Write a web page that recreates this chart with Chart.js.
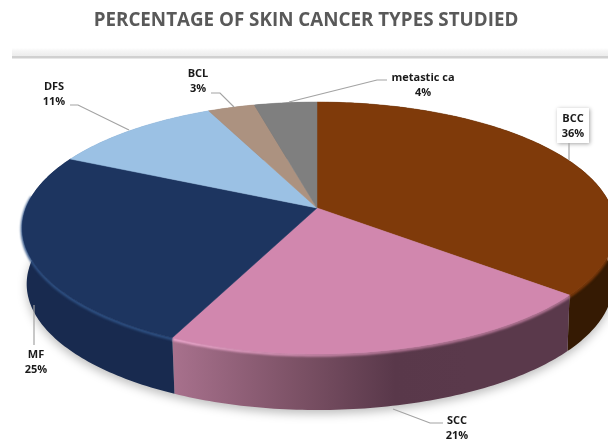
<!DOCTYPE html>
<html>
<head>
<meta charset="utf-8">
<style>
html,body{margin:0;padding:0;background:#fff;overflow:hidden}
canvas{display:block;filter:blur(0.35px)}
</style>
<script src="https://cdn.jsdelivr.net/npm/chart.js@4"></script>
</head>
<body>
<canvas id="c" width="608" height="439"></canvas>
<script>
const chartTitle = 'PERCENTAGE OF SKIN CANCER TYPES STUDIED';
const categories = ['BCC', 'SCC', 'MF', 'DFS', 'BCL', 'metastic ca'];
const percentages = [36, 21, 25, 11, 3, 4];
const topColors = ['#7F3A0A', '#D187AE', '#1D3560', '#9BC1E4', '#AC9280', '#7F7F7F'];
const wallColors = ['#351A03', '#5A394B', '#182A4F', '#7C9AB6', '#8A7566', '#666666'];

// Drawing layout (not data)
const geo = {cx: 317, cy: 208, a: 291, b: 122.8, p: -0.159, depth: 56, rightScale: 1.012, shrinkL: 0.985, shrinkR: 0.992};
const labelPos = [[573,118.5],[457,420.5],[36,355],[54,87],[198,73.5],[423,77.5]];
const leaders = [
  [[569,143],[569,160]],
  [[443,423],[430,423],[393,409]],
  [[34,345],[34,305]],
  [[70,105],[78,105],[129,130]],
  [[211,93],[220,93],[234,107]],
  [[387,80],[377,80],[289,102]]
];

function pt(theta, dy, bottom) {
  const u = Math.cos(theta), v = Math.sin(theta), w = 1 + geo.p * v;
  let k = u > 0 ? geo.rightScale : 1;
  if (bottom) k *= u > 0 ? geo.shrinkR : geo.shrinkL;
  return [geo.cx + k * geo.a * u / w, geo.cy + geo.b * v / w + (dy || 0)];
}
function edge(ctx, t0, t1, dy, first, bottom) {
  const n = Math.max(8, Math.ceil(Math.abs(t1 - t0) * 60));
  for (let i = 0; i <= n; i++) {
    const p = pt(t0 + (t1 - t0) * i / n, dy, bottom);
    if (i === 0 && first) ctx.moveTo(p[0], p[1]); else ctx.lineTo(p[0], p[1]);
  }
}

const pie3d = {
  id: 'pie3d',
  beforeDraw(chart) {
    const ctx = chart.ctx;
    ctx.save();
    const g = ctx.createLinearGradient(0, 48, 0, 56);
    g.addColorStop(0, 'rgba(225,225,225,0)');
    g.addColorStop(1, '#EDEDED');
    ctx.fillStyle = g;
    ctx.fillRect(12, 48, 596, 8);
    ctx.fillStyle = '#D0D0D0';
    ctx.fillRect(12, 56, 596, 2.5);
    ctx.restore();
  },
  beforeDatasetsDraw(chart) {
    const ctx = chart.ctx;
    const arcs = chart.getDatasetMeta(0).data;
    ctx.save();
    // soft shadow below the pie
    ctx.save();
    ctx.filter = 'blur(5px)';
    ctx.fillStyle = 'rgba(0,0,0,0.25)';
    ctx.beginPath();
    edge(ctx, 0, Math.PI * 2, geo.depth + 4, true, true);
    ctx.closePath();
    ctx.fill();
    ctx.restore();
    // side walls
    arcs.forEach((el, i) => {
      ctx.beginPath();
      edge(ctx, el.startAngle, el.endAngle, 0, true, false);
      edge(ctx, el.endAngle, el.startAngle, geo.depth, false, true);
      ctx.closePath();
      if (categories[i] === 'SCC') {
        const g = ctx.createLinearGradient(172, 0, 470, 0);
        g.addColorStop(0, '#A8718D');
        g.addColorStop(0.44, '#7A5064');
        g.addColorStop(0.75, '#59384A');
        g.addColorStop(1, '#5A394B');
        ctx.fillStyle = g;
      } else {
        ctx.fillStyle = wallColors[i];
      }
      ctx.fill();
    });
    // rim highlight on the front edge only
    arcs.forEach((el, i) => {
      const t0 = Math.max(el.startAngle, 0.3);
      const t1 = Math.min(el.endAngle, Math.PI + 0.1);
      if (t1 <= t0) return;
      ctx.save();
      ctx.filter = 'blur(1px)';
      ctx.lineWidth = 3;
      if (categories[i] === 'SCC') {
        const g = ctx.createLinearGradient(172, 0, 400, 0);
        g.addColorStop(0, '#F2ACD2');
        g.addColorStop(1, '#B87899');
        ctx.strokeStyle = g;
      } else if (categories[i] === 'MF') {
        ctx.strokeStyle = '#2F5285';
      } else {
        ctx.strokeStyle = topColors[i];
      }
      ctx.beginPath();
      edge(ctx, t0, t1, 1, true, false);
      ctx.stroke();
      ctx.restore();
    });
    // top faces
    arcs.forEach((el) => {
      ctx.beginPath();
      ctx.moveTo(geo.cx, geo.cy);
      edge(ctx, el.startAngle, el.endAngle, 0, false, false);
      ctx.closePath();
      ctx.fillStyle = el.options.backgroundColor;
      ctx.fill();
      ctx.strokeStyle = el.options.backgroundColor;
      ctx.lineWidth = 0.5;
      ctx.stroke();
    });
    ctx.restore();
    return false;
  },
  afterDraw(chart) {
    const ctx = chart.ctx;
    ctx.save();
    // BCC label box
    ctx.save();
    ctx.shadowColor = 'rgba(0,0,0,0.35)';
    ctx.shadowBlur = 4;
    ctx.shadowOffsetX = 1;
    ctx.shadowOffsetY = 1;
    ctx.fillStyle = '#fff';
    ctx.fillRect(557, 108, 32, 35);
    ctx.restore();
    // leader lines
    ctx.strokeStyle = '#A3A3A3';
    ctx.lineWidth = 1.2;
    leaders.forEach(line => {
      ctx.beginPath();
      line.forEach((p, k) => k ? ctx.lineTo(p[0], p[1]) : ctx.moveTo(p[0], p[1]));
      ctx.stroke();
    });
    // labels
    ctx.fillStyle = '#1A1A1A';
    ctx.font = 'bold 11px "Open Sans", sans-serif';
    ctx.textAlign = 'center';
    ctx.textBaseline = 'middle';
    categories.forEach((name, i) => {
      const [x, y] = labelPos[i];
      ctx.fillText(name, x, y);
      ctx.fillText(percentages[i] + '%', x, y + 15);
    });
    ctx.restore();
  }
};

new Chart(document.getElementById('c'), {
  type: 'pie',
  data: {
    labels: categories,
    datasets: [{data: percentages, backgroundColor: topColors, borderWidth: 0}]
  },
  options: {
    responsive: false,
    animation: false,
    events: [],
    layout: {padding: {left: 4}},
    plugins: {
      legend: {display: false},
      tooltip: {enabled: false},
      title: {
        display: true,
        text: chartTitle,
        color: '#595959',
        font: {family: '"Open Sans", sans-serif', size: 18.8, weight: 'bold'},
        padding: {top: 9, bottom: 20}
      }
    }
  },
  plugins: [pie3d]
});
</script>
</body>
</html>
